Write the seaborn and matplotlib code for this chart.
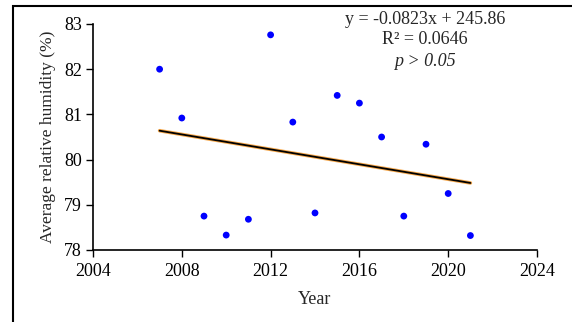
import numpy as np
import pandas as pd
import seaborn as sns
import matplotlib
matplotlib.use("Agg")
import matplotlib.pyplot as plt
from matplotlib.patches import Rectangle

years = [2007, 2008, 2009, 2010, 2011, 2012, 2013, 2014, 2015, 2016, 2017, 2018, 2019, 2020, 2021]
humidity = [82.00, 80.92, 78.75, 78.33, 78.68, 82.76, 80.83, 78.82, 81.42, 81.25, 80.50, 78.75, 80.34, 79.25, 78.32]
x_ticks = [2004, 2008, 2012, 2016, 2020, 2024]
y_ticks = [78, 79, 80, 81, 82, 83]
eq_lines = ["y = -0.0823x + 245.86", "R² = 0.0646"]
p_text = "p > 0.05"

df = pd.DataFrame({"Year": years, "Humidity": humidity})

sns.set_theme(style="ticks")
plt.rcParams['font.family'] = ['Liberation Serif', 'DejaVu Serif']

fig = plt.figure(figsize=(5.72, 3.22), dpi=100)
ax = fig.add_axes([93/572, 1-250/322, (537-93)/572, (250-24)/322])

# trend line with orange glow
sns.regplot(data=df, x="Year", y="Humidity", ax=ax, scatter=False, ci=None, truncate=True,
            line_kws=dict(color="#F7A84A", lw=2.6, zorder=2))
sns.regplot(data=df, x="Year", y="Humidity", ax=ax, scatter=False, ci=None, truncate=True,
            line_kws=dict(color="black", lw=1.3, zorder=3))
sns.scatterplot(data=df, x="Year", y="Humidity", ax=ax, color="#0000FF", s=24,
                edgecolor="none", zorder=4)

ax.set_xlim(2004, 2024)
ax.set_ylim(78, 83)
ax.set_xticks(x_ticks)
ax.set_yticks(y_ticks)
ax.tick_params(axis="both", direction="out", length=5, width=1, labelsize=13, colors="black", pad=3)
ax.tick_params(axis="x", pad=4)
for s in ["top", "right"]:
    ax.spines[s].set_visible(False)
for s in ["left", "bottom"]:
    ax.spines[s].set_color("black")
    ax.spines[s].set_linewidth(1.2)
ax.set_xlabel("Year", fontsize=13, labelpad=8)
ax.set_ylabel("Average relative humidity (%)", fontsize=12.5, labelpad=6)
ax.set_facecolor("white")

fig.text(425/572, 1-20/322, eq_lines[0], ha="center", va="center", fontsize=13)
fig.text(425/572, 1-40/322, eq_lines[1], ha="center", va="center", fontsize=13)
fig.text(425/572, 1-61/322, p_text, ha="center", va="center", fontsize=13, style="italic")

fig.patches.append(Rectangle((12.5/572, -0.1), 1.2, 1.1 - 6/322, transform=fig.transFigure,
                             fill=False, edgecolor="black", linewidth=1.5, zorder=0))

fig.savefig("out.png", dpi=100, facecolor="white")
